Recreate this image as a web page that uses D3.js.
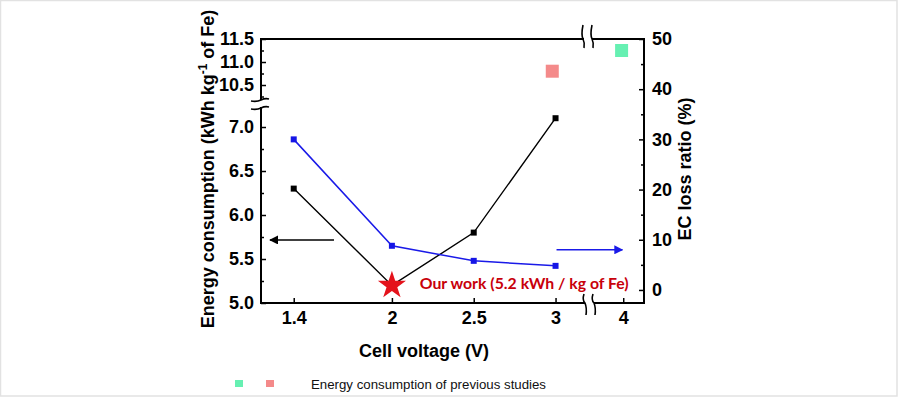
<!DOCTYPE html>
<html>
<head>
<meta charset="utf-8">
<script src="https://cdn.jsdelivr.net/npm/d3@7"></script>
<style>
  html, body { margin: 0; padding: 0; background: #fff; }
  svg { display: block; }
  .tick text { font-family: "Liberation Sans", Arial, sans-serif; font-weight: bold; font-size: 18px; fill: #000; }
  .tick line { stroke: #000; stroke-width: 1.5; }
</style>
</head>
<body>
<svg id="chart" width="898" height="397"></svg>
<script>
// ---- data ----
const voltage = [1.4, 2, 2.5, 3];
const energy = [6.3, 5.2, 5.8, 7.1];        // kWh / kg Fe (left axis)
const ecLoss = [30, 8.8, 5.8, 4.8];         // % (right axis)
const prevVoltage = [2.98, 3.99];
const prevEnergy = [10.8, 11.25];
const prevColors = ["#f48a8a", "#66f0b2"];
const xTicksA = [1.4, 2, 2.5, 3];
const xTicksB = [4];
const yTicksLow = [5.0, 5.5, 6.0, 6.5, 7.0];
const yMinorLow = [5.25, 5.75, 6.25, 6.75];
const yTicksHigh = [10.5, 11.0, 11.5];
const yMinorHigh = [10.25, 10.75, 11.25];
const rTicks = [0, 10, 20, 30, 40, 50];
const rMinor = [5, 15, 25, 35, 45];
const ourWork = { v: 2, e: 5.2, label: "Our work (5.2 kWh / kg of Fe)" };

// ---- layout ----
const L = 261, R = 644, T = 39, B = 303;
const svg = d3.select("#chart");

svg.append("rect").attr("x", 0.5).attr("y", 0.5).attr("width", 896.5).attr("height", 395.5)
  .attr("fill", "#fff").attr("stroke", "#e2e2e2").attr("stroke-width", 1.5);

const xA = d3.scaleLinear().domain([1.2, 3.18]).range([L, 585]);
const xB = d3.scaleLinear().domain([3.82, 4.128]).range([594, R]);
const yLow = d3.scaleLinear().domain([5, 7.216]).range([B, 108]);
const yHigh = d3.scaleLinear().domain([10.196, 11.5]).range([99, T]);
const yR = d3.scaleLinear().domain([-2.6, 50]).range([B, T]);

function strip(g) { g.select(".domain").remove(); }

// left axis
svg.append("g").attr("transform", `translate(${L},0)`)
  .call(d3.axisLeft(yLow).tickValues(yTicksLow).tickSize(-5).tickPadding(7).tickFormat(d3.format(".1f"))).call(strip);
svg.append("g").attr("transform", `translate(${L},0)`)
  .call(d3.axisLeft(yLow).tickValues(yMinorLow).tickSize(-3).tickFormat("")).call(strip);
svg.append("g").attr("transform", `translate(${L},0)`)
  .call(d3.axisLeft(yHigh).tickValues(yTicksHigh).tickSize(-5).tickPadding(7).tickFormat(d3.format(".1f"))).call(strip);
svg.append("g").attr("transform", `translate(${L},0)`)
  .call(d3.axisLeft(yHigh).tickValues(yMinorHigh).tickSize(-3).tickFormat("")).call(strip);

// right axis
svg.append("g").attr("transform", `translate(${R},0)`)
  .call(d3.axisRight(yR).tickValues(rTicks).tickSize(-5).tickPadding(8)).call(strip);
svg.append("g").attr("transform", `translate(${R},0)`)
  .call(d3.axisRight(yR).tickValues(rMinor).tickSize(-3).tickFormat("")).call(strip);

// bottom axis
svg.append("g").attr("transform", `translate(0,${B})`)
  .call(d3.axisBottom(xA).tickValues(xTicksA).tickSize(-5).tickPadding(8).tickFormat(d => String(d))).call(strip);
svg.append("g").attr("transform", `translate(0,${B})`)
  .call(d3.axisBottom(xB).tickValues(xTicksB).tickSize(-5).tickPadding(8).tickFormat(d => String(d))).call(strip);

// frame lines
const frame = svg.append("g").attr("stroke", "#000").attr("stroke-width", 2).attr("fill", "none").attr("stroke-linecap", "square");
frame.append("line").attr("x1", L).attr("x2", L).attr("y1", B).attr("y2", 108);
frame.append("line").attr("x1", L).attr("x2", L).attr("y1", 99).attr("y2", T);
frame.append("line").attr("x1", R).attr("x2", R).attr("y1", B).attr("y2", T);
frame.append("line").attr("x1", L).attr("x2", 584).attr("y1", B).attr("y2", B);
frame.append("line").attr("x1", 595).attr("x2", R).attr("y1", B).attr("y2", B);
frame.append("line").attr("x1", L).attr("x2", 583).attr("y1", T).attr("y2", T);
frame.append("line").attr("x1", 593).attr("x2", R).attr("y1", T).attr("y2", T);

// break marks
const bk = svg.append("g").attr("stroke", "#000").attr("stroke-width", 1.6).attr("fill", "none");
[583, 592].forEach(x => {
  bk.append("path").attr("d", `M${x},${T - 14} Q${x - 2},${T - 4} ${x},${T} Q${x + 2},${T + 4} ${x + 1},${T + 9}`);
});
[585, 594].forEach(x => {
  bk.append("path").attr("d", `M${x - 1},${B - 9} Q${x - 3},${B - 3} ${x},${B} Q${x + 2},${B + 5} ${x + 1},${B + 12}`);
});
[100, 108].forEach(y => {
  bk.append("path").attr("d", `M${L - 10},${y + 1} Q${L - 4},${y + 2} ${L},${y} Q${L + 4},${y - 2} ${L + 8},${y - 1}`);
});

// series lines
const lineE = d3.line().x(d => xA(d[0])).y(d => yLow(d[1]));
const lineR = d3.line().x(d => xA(d[0])).y(d => yR(d[1]));
const eData = voltage.map((v, i) => [v, energy[i]]);
const rData = voltage.map((v, i) => [v, ecLoss[i]]);

svg.append("path").datum(eData).attr("d", lineE).attr("fill", "none").attr("stroke", "#000").attr("stroke-width", 1.4);
svg.append("path").datum(rData).attr("d", lineR).attr("fill", "none").attr("stroke", "#1a1ae8").attr("stroke-width", 1.5);

const sq = d3.symbol(d3.symbolSquare, 36);
svg.append("g").selectAll("path").data(eData).join("path")
  .attr("d", sq).attr("transform", d => `translate(${xA(d[0])},${yLow(d[1])})`).attr("fill", "#000");
svg.append("g").selectAll("path").data(rData).join("path")
  .attr("d", sq).attr("transform", d => `translate(${xA(d[0])},${yR(d[1])})`).attr("fill", "#1515e6");

// previous studies
const xAny = v => v > 3.5 ? xB(v) : xA(v);
svg.append("g").selectAll("rect").data(prevVoltage).join("rect")
  .attr("x", (d) => xAny(d) - 6.5).attr("y", (d, i) => yHigh(prevEnergy[i]) - 6.5)
  .attr("width", 13).attr("height", 13).attr("fill", (d, i) => prevColors[i]);

// star: our work
svg.append("path").attr("d", d3.symbol(d3.symbolStar, 245))
  .attr("transform", `translate(${xA(ourWork.v)},${yLow(ourWork.e)})`).attr("fill", "#e4121b");
svg.append("text").attr("x", xA(2.17)).attr("y", yLow(5.155))
  .attr("font-family", "Lato, 'Open Sans', sans-serif").attr("font-weight", "bold").attr("font-size", 16)
  .attr("textLength", 209).attr("lengthAdjust", "spacingAndGlyphs")
  .attr("fill", "#c8000a").text(ourWork.label);

// arrows
const defs = svg.append("defs");
function head(id, color) {
  defs.append("marker").attr("id", id).attr("viewBox", "0 0 10 10").attr("refX", 9).attr("refY", 5)
    .attr("markerWidth", 9).attr("markerHeight", 9).attr("markerUnits", "userSpaceOnUse").attr("orient", "auto")
    .append("path").attr("d", "M0,0 L10,5 L0,10 Z").attr("fill", color);
}
head("hk", "#000"); head("hb", "#1a1ae8");
svg.append("line").attr("x1", xA(1.646)).attr("x2", xA(1.255)).attr("y1", yLow(5.716)).attr("y2", yLow(5.716))
  .attr("stroke", "#000").attr("stroke-width", 1.5).attr("marker-end", "url(#hk)");
svg.append("line").attr("x1", xA(3.006)).attr("x2", xB(3.995)).attr("y1", yR(8)).attr("y2", yR(8))
  .attr("stroke", "#1a1ae8").attr("stroke-width", 1.5).attr("marker-end", "url(#hb)");

// axis titles
const tf = "Liberation Sans, Arial, sans-serif";
svg.append("text").attr("x", 424).attr("y", 357).attr("text-anchor", "middle")
  .attr("font-family", tf).attr("font-weight", "bold").attr("font-size", 18).text("Cell voltage (V)");

const yl = svg.append("text").attr("transform", "translate(214,169) rotate(-90)").attr("text-anchor", "middle")
  .attr("font-family", tf).attr("font-weight", "bold").attr("font-size", 18);
yl.append("tspan").text("Energy consumption (kWh kg");
yl.append("tspan").attr("dy", -7).attr("font-size", 12).text("-1");
yl.append("tspan").attr("dy", 7).text(" of Fe)");

svg.append("text").attr("transform", "translate(691,169) rotate(-90)").attr("text-anchor", "middle")
  .attr("font-family", tf).attr("font-weight", "bold").attr("font-size", 18).text("EC loss ratio (%)");

// legend
svg.append("g").selectAll("rect").data(prevColors.slice().reverse()).join("rect")
  .attr("x", (d, i) => 235 + i * 31).attr("y", 380).attr("width", 8).attr("height", 7).attr("fill", d => d);
svg.append("text").attr("x", 311).attr("y", 389).attr("font-family", tf).attr("font-size", 13)
  .attr("textLength", 235).attr("lengthAdjust", "spacingAndGlyphs")
  .attr("fill", "#111").text("Energy consumption of previous studies");
</script>
</body>
</html>
